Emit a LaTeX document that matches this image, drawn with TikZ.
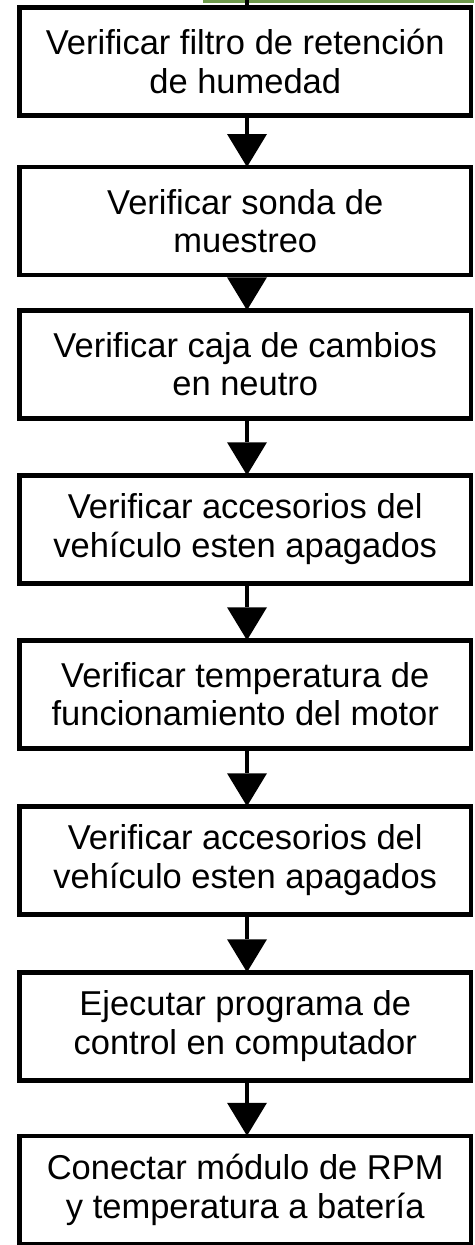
\documentclass[tikz,border=0pt]{standalone}
\usepackage{fontspec}
\setmainfont{Liberation Sans}
\usetikzlibrary{arrows.meta}
\definecolor{topgreen}{HTML}{6E9A4C}
\begin{document}
\begin{tikzpicture}[x=1pt,y=-1pt,
  stepbox/.style={draw, line width=4.5pt, minimum width=451.5pt, minimum height=108pt,
    inner sep=0pt, outer sep=0pt, align=center, font=\fontsize{34.5}{38.5}\selectfont},
  flow/.style={line width=4.5pt, -{Triangle[width=40pt,length=33pt,line width=0pt]}}]
\useasboundingbox (0,0) rectangle (474,1245);
\fill[white] (0,0) rectangle (474,1245);
\fill[topgreen] (203,0) rectangle (474,2.5);
\node[stepbox] (b1) at (245.25,61.25) {Verificar filtro de retención\\de humedad};
\node[stepbox] (b2) at (245.25,221) {Verificar sonda de\\muestreo};
\node[stepbox] (b3) at (245.25,364.25) {Verificar caja de cambios\\en neutro};
\node[stepbox] (b4) at (245.25,529.25) {Verificar accesorios del\\vehículo esten apagados};
\node[stepbox] (b5) at (245.25,694.25) {Verificar temperatura de\\funcionamiento del motor};
\node[stepbox] (b6) at (245.25,860.25) {Verificar accesorios del\\vehículo esten apagados};
\node[stepbox] (b7) at (245.25,1026.25) {Ejecutar programa de\\control en computador};
\node[stepbox] (b8) at (245.25,1189.75) {Conectar módulo de RPM\\y temperatura a batería};
\coordinate (top) at (247,0);
\draw[line width=4.5pt] (top) -- ([xshift=1.75pt]b1.north);
\foreach \a/\b in {b1/b2,b2/b3,b3/b4,b4/b5,b5/b6,b6/b7,b7/b8}
  \draw[flow] ([xshift=1.75pt]\a.south) -- ([xshift=1.75pt]\b.north);
\end{tikzpicture}
\end{document}
